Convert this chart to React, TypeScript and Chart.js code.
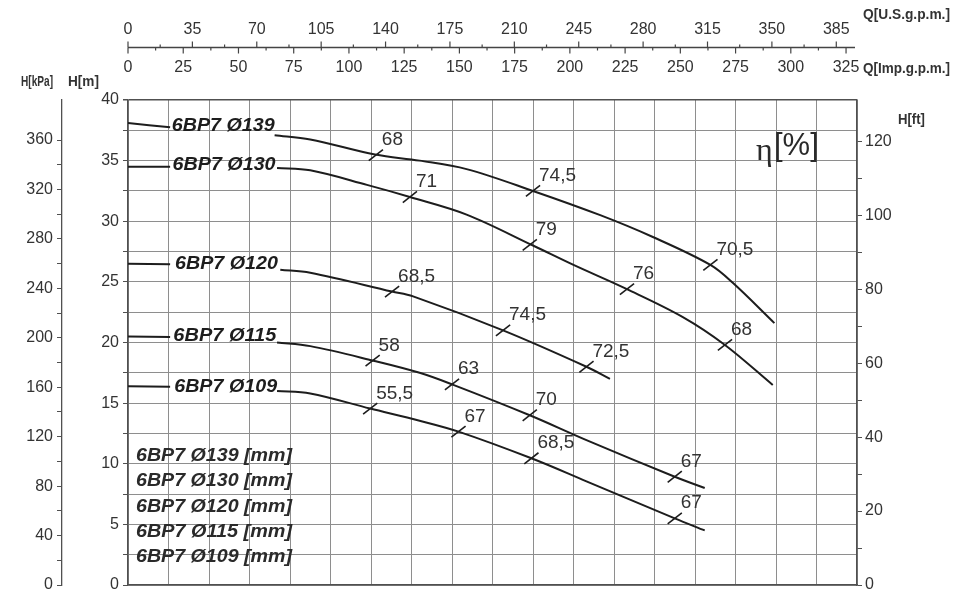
import React, { useEffect, useRef } from 'react';
import { Chart, registerables } from 'chart.js';

Chart.register(...registerables);

// ---------- data ----------
const FLOW_MAX = 90; // m3/h (hidden bottom scale)
const HEAD_MAX = 40; // m

const US_PER_M3H = 4.4029;
const IMP_PER_M3H = 3.6662;
const KPA_PER_M = 9.81;
const FT_PER_M = 3.28084;

const US_TICKS = [0, 35, 70, 105, 140, 175, 210, 245, 280, 315, 350, 385];
const IMP_TICKS = [0, 25, 50, 75, 100, 125, 150, 175, 200, 225, 250, 275, 300, 325];

const CURVE_NAMES = ['6BP7 Ø139', '6BP7 Ø130', '6BP7 Ø120', '6BP7 Ø115', '6BP7 Ø109'];
const LEGEND_LINES = ['6BP7 Ø139 [mm]', '6BP7 Ø130 [mm]', '6BP7 Ø120 [mm]', '6BP7 Ø115 [mm]', '6BP7 Ø109 [mm]'];
const LABEL_Q = [5.4, 5.5, 5.8, 5.6, 5.7];
const LABEL_H = [37.85, 34.6, 26.5, 20.55, 16.3];

const Q_139 = [0, 5.2, 11, 18.1, 22.5, 30.5, 36.0, 41.8, 50.0, 58.3, 64.8, 71.9, 74.7, 79.8];
const H_139 = [38.1, 37.75, null, 37.1, 36.75, 35.5, 35.0, 34.3, 32.5, 30.5, 28.7, 26.4, 24.9, 21.6];

const Q_130 = [0, 5.2, 11, 18.4, 22.5, 29.5, 34.8, 41.8, 50.0, 55.0, 61.6, 68.5, 73.7, 79.6];
const H_130 = [34.5, 34.5, null, 34.4, 34.2, 33.0, 32.0, 30.55, 28.0, 26.4, 24.4, 22.1, 19.8, 16.5];

const Q_120 = [0, 5.2, 11, 18.8, 22.5, 32.6, 35.2, 46.3, 56.6, 59.5];
const H_120 = [26.5, 26.45, null, 26.0, 25.75, 24.2, 23.8, 21.0, 18.0, 17.0];

const Q_115 = [0, 5.2, 11, 18.4, 22.5, 30.3, 36.0, 40.0, 49.6, 56.6, 67.5, 71.2];
const H_115 = [20.5, 20.45, null, 20.0, 19.7, 18.5, 17.5, 16.55, 14.0, 11.95, 8.93, 8.0];

const Q_109 = [0, 5.2, 11, 18.4, 22.5, 29.9, 36.0, 40.8, 49.8, 56.6, 67.5, 71.2];
const H_109 = [16.4, 16.35, null, 16.0, 15.8, 14.55, 13.55, 12.65, 10.45, 8.55, 5.5, 4.5];

const EFF_Q = [30.6, 50.0, 71.9, 34.8, 49.6, 61.6, 73.7, 32.6, 46.3, 56.6, 30.2, 40.0, 49.6, 67.5, 29.9, 40.8, 49.8, 67.5];
const EFF_H = [35.45, 32.5, 26.4, 32.0, 28.05, 24.4, 19.8, 24.2, 21.0, 18.0, 18.5, 16.55, 14.0, 8.93, 14.55, 12.65, 10.45, 5.5];
const EFF_TEXT = ['68', '74,5', '70,5', '71', '79', '76', '68', '68,5', '74,5', '72,5', '58', '63', '70', '67', '55,5', '67', '68,5', '67'];

// ---------- styling ----------
const SANS = '"Liberation Sans", Arial, Helvetica, sans-serif';
const NARROW = '"Liberation Sans Narrow", "Liberation Sans", Arial, sans-serif';
const INK = '#1d1d1d';
const TXT = '#333333';
const GRID = '#8e8e8e';
const AXIS = '#505050';

function toPts(qs: number[], hs: (number | null)[]) {
  return qs.map((q, i) => ({ x: q, y: hs[i] }));
}

function fitText(ctx: CanvasRenderingContext2D, text: string, x: number, y: number, font: string, width: number, color: string) {
  ctx.save();
  ctx.font = font;
  ctx.fillStyle = color;
  ctx.textBaseline = 'middle';
  ctx.textAlign = 'left';
  const w = ctx.measureText(text).width;
  ctx.translate(x, y);
  ctx.scale(width / w, 1);
  ctx.fillText(text, 0, 0);
  ctx.restore();
}

const annotations = {
  id: 'pumpAnnotations',
  afterDraw(chart: any) {
    const ctx: CanvasRenderingContext2D = chart.ctx;
    const xs = chart.scales.x;
    const ys = chart.scales.y;
    const area = chart.chartArea;

    // ---- top double axis (US / Imp gpm) ----
    const yLine = 47.5;
    ctx.save();
    ctx.strokeStyle = '#444';
    ctx.lineWidth = 1.3;
    ctx.beginPath();
    ctx.moveTo(xs.getPixelForValue(0), yLine);
    ctx.lineTo(xs.getPixelForValue(FLOW_MAX) - 2, yLine);
    ctx.stroke();
    ctx.lineWidth = 1.2;
    US_TICKS.forEach((v, i) => {
      const px = xs.getPixelForValue(v / US_PER_M3H);
      ctx.beginPath();
      ctx.moveTo(px, yLine);
      ctx.lineTo(px, yLine - 6);
      ctx.stroke();
      if (i < US_TICKS.length - 1) {
        const mid = xs.getPixelForValue((v + (US_TICKS[i + 1] - v) / 2) / US_PER_M3H);
        ctx.beginPath();
        ctx.moveTo(mid, yLine);
        ctx.lineTo(mid, yLine - 3);
        ctx.stroke();
      }
    });
    IMP_TICKS.forEach((v, i) => {
      const px = xs.getPixelForValue(v / IMP_PER_M3H);
      ctx.beginPath();
      ctx.moveTo(px, yLine);
      ctx.lineTo(px, yLine + 6);
      ctx.stroke();
      if (i < IMP_TICKS.length - 1) {
        const mid = xs.getPixelForValue((v + (IMP_TICKS[i + 1] - v) / 2) / IMP_PER_M3H);
        ctx.beginPath();
        ctx.moveTo(mid, yLine);
        ctx.lineTo(mid, yLine + 3);
        ctx.stroke();
      }
    });
    ctx.fillStyle = TXT;
    ctx.font = `16px ${SANS}`;
    ctx.textAlign = 'center';
    ctx.textBaseline = 'middle';
    US_TICKS.forEach((v) => {
      ctx.fillText(String(v), xs.getPixelForValue(v / US_PER_M3H), 30);
    });
    IMP_TICKS.forEach((v) => {
      ctx.fillText(String(v), xs.getPixelForValue(v / IMP_PER_M3H), 68);
    });
    ctx.restore();

    // ---- axis titles ----
    fitText(ctx, 'Q[U.S.g.p.m.]', 863, 15, `bold 14px ${NARROW}`, 87, TXT);
    fitText(ctx, 'Q[Imp.g.p.m.]', 863, 69, `bold 14px ${NARROW}`, 87, TXT);
    fitText(ctx, 'H[kPa]', 21, 82, `bold 15px ${NARROW}`, 32, TXT);
    fitText(ctx, 'H[m]', 68, 82, `bold 15px ${NARROW}`, 31, TXT);
    fitText(ctx, 'H[ft]', 898, 120, `bold 14px ${NARROW}`, 27, TXT);

    // ---- curve name labels ----
    CURVE_NAMES.forEach((name, i) => {
      fitText(ctx, name, xs.getPixelForValue(LABEL_Q[i]), ys.getPixelForValue(LABEL_H[i]), `italic bold 18px ${SANS}`, 103, INK);
    });

    // ---- efficiency values ----
    const effMeta = chart.getDatasetMeta(5);
    ctx.save();
    ctx.fillStyle = TXT;
    ctx.font = `19px ${SANS}`;
    ctx.textAlign = 'left';
    ctx.textBaseline = 'alphabetic';
    effMeta.data.forEach((el: any, i: number) => {
      ctx.fillText(EFF_TEXT[i], el.x + 6, el.y - 10);
    });
    ctx.restore();

    // ---- legend block ----
    LEGEND_LINES.forEach((t, i) => {
      fitText(ctx, t, area.left + 8, 456 + i * 25.3, `italic bold 18px ${SANS}`, 156, '#2a2a2a');
    });

    // ---- eta label ----
    ctx.save();
    ctx.fillStyle = '#2a2a2a';
    ctx.textBaseline = 'middle';
    ctx.textAlign = 'left';
    ctx.font = `32px "Liberation Serif", "DejaVu Serif", serif`;
    ctx.fillText('η', 756, 152);
    ctx.font = `31px ${SANS}`;
    ctx.fillText('[%]', 774, 146);
    ctx.restore();
  },
};

function stepFilter(step: number) {
  return (s: any) => {
    s.ticks = s.ticks.filter((t: any) => Math.abs(t.value / step - Math.round(t.value / step)) < 1e-6);
  };
}

function fixedWidth(w: number) {
  return (s: any) => {
    s.width = w;
    s.paddingTop = 0;
    s.paddingBottom = 0;
  };
}

export default function App() {
  const ref = useRef<HTMLCanvasElement>(null);

  useEffect(() => {
    const curveStyle = {
      borderColor: INK,
      borderWidth: 2,
      pointRadius: 0,
      tension: 0.35,
      spanGaps: false,
      fill: false,
    };
    const chart = new Chart(ref.current as HTMLCanvasElement, {
      type: 'line',
      data: {
        datasets: [
          { label: CURVE_NAMES[0], data: toPts(Q_139, H_139), ...curveStyle },
          { label: CURVE_NAMES[1], data: toPts(Q_130, H_130), ...curveStyle },
          { label: CURVE_NAMES[2], data: toPts(Q_120, H_120), ...curveStyle },
          { label: CURVE_NAMES[3], data: toPts(Q_115, H_115), ...curveStyle },
          { label: CURVE_NAMES[4], data: toPts(Q_109, H_109), ...curveStyle },
          {
            label: 'η',
            data: toPts(EFF_Q, EFF_H),
            showLine: false,
            pointStyle: 'line',
            pointRotation: -38,
            pointRadius: 9,
            pointBorderWidth: 1.6,
            pointBorderColor: INK,
            pointBackgroundColor: INK,
            borderColor: INK,
          },
        ],
      },
      options: {
        responsive: false,
        animation: false,
        events: [],
        layout: { autoPadding: false, padding: { left: 0, right: 0, top: 100, bottom: 6 } },
        plugins: { legend: { display: false }, tooltip: { enabled: false }, title: { display: false } },
        scales: {
          x: {
            type: 'linear',
            position: 'bottom',
            min: 0,
            max: FLOW_MAX,
            ticks: { display: false, stepSize: 5 },
            grid: { color: GRID, lineWidth: 1, drawTicks: false },
            border: { display: true, color: AXIS, width: 1.5 },
            afterFit: (s: any) => {
              s.height = 0;
              s.paddingLeft = 0;
              s.paddingRight = 0;
            },
          },
          y: {
            type: 'linear',
            position: 'left',
            weight: 0,
            min: 0,
            max: HEAD_MAX,
            ticks: {
              stepSize: 2.5,
              color: TXT,
              padding: 4,
              font: { size: 16, family: SANS },
              callback: (v: any) => (Number(v) % 5 === 0 ? String(v) : ''),
            },
            grid: {
              color: (c: any) => (c.tick && c.tick.value === HEAD_MAX ? AXIS : GRID),
              lineWidth: (c: any) => (c.tick && c.tick.value === HEAD_MAX ? 1.5 : 1),
              tickColor: AXIS,
              tickLength: 5,
            },
            border: { display: true, color: AXIS, width: 1.5 },
            afterFit: fixedWidth(66),
          },
          kpa: {
            type: 'linear',
            position: 'left',
            weight: 1,
            min: 0,
            max: HEAD_MAX * KPA_PER_M,
            afterBuildTicks: stepFilter(20),
            ticks: {
              stepSize: 20,
              color: TXT,
              padding: 4,
              font: { size: 16, family: SANS },
              callback: (v: any) => (Number(v) % 40 === 0 ? String(v) : ''),
            },
            grid: { drawOnChartArea: false, tickLength: 5, color: AXIS, tickColor: AXIS },
            border: { display: true, color: AXIS, width: 1.3 },
            afterFit: fixedWidth(62),
          },
          ft: {
            type: 'linear',
            position: 'right',
            min: 0,
            max: HEAD_MAX * FT_PER_M,
            afterBuildTicks: stepFilter(10),
            ticks: {
              stepSize: 10,
              color: TXT,
              padding: 3,
              font: { size: 16, family: SANS },
              callback: (v: any) => (Number(v) % 20 === 0 ? String(v) : ''),
            },
            grid: { drawOnChartArea: false, tickLength: 5, color: AXIS, tickColor: AXIS },
            border: { display: true, color: AXIS, width: 1.5 },
            afterFit: fixedWidth(96),
          },
        },
      } as any,
      plugins: [annotations],
    });
    return () => chart.destroy();
  }, []);

  return (
    <div style={{ position: 'absolute', left: 0, top: 0, width: 953, height: 591, background: '#ffffff' }}>
      <canvas ref={ref} width={953} height={591} style={{ width: 953, height: 591, display: 'block' }} />
    </div>
  );
}
